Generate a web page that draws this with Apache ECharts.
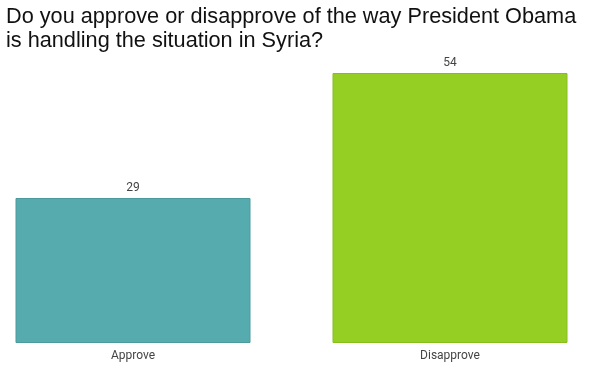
<!DOCTYPE html>
<html>
<head>
<meta charset="utf-8">
<script src="https://cdn.jsdelivr.net/npm/echarts@6/dist/echarts.min.js"></script>
<style>html,body{margin:0;padding:0;background:#fff;}#c{width:600px;height:384px;}</style>
</head>
<body>
<div id="c"></div>
<script>
const categories = ["Approve", "Disapprove"];
const values = [29, 54];
const barColors = ["#56abaf", "#96cf24"];
const borderColors = ["#4a9a9e", "#88bd1e"];

const chart = echarts.init(document.getElementById('c'), null, {renderer: 'canvas'});
chart.setOption({
  animation: false,
  backgroundColor: '#ffffff',
  title: {
    text: 'Do you approve or disapprove of the way President Obama\nis handling the situation in Syria?',
    left: 1,
    top: 0,
    textStyle: {fontFamily: 'Liberation Sans', fontSize: 21.7, fontWeight: 'normal', color: '#111', lineHeight: 24}
  },
  grid: {left: 133, right: 150, top: 43, bottom: 41, containLabel: false},
  xAxis: {
    type: 'category',
    data: categories,
    boundaryGap: false,
    axisLine: {show: false},
    axisTick: {show: false},
    axisLabel: {color: '#444', fontFamily: 'Roboto', fontSize: 12, margin: 7}
  },
  yAxis: {
    type: 'value',
    min: 0,
    max: 60,
    show: false,
    splitLine: {show: false}
  },
  series: [{
    type: 'bar',
    barWidth: 235,
    data: values.map((v, i) => ({value: v, itemStyle: {color: barColors[i], borderColor: borderColors[i], borderWidth: 1}})),
    label: {show: true, position: 'top', color: '#444', fontFamily: 'Roboto', fontSize: 12, distance: 4}
  }]
});
</script>
</body>
</html>
